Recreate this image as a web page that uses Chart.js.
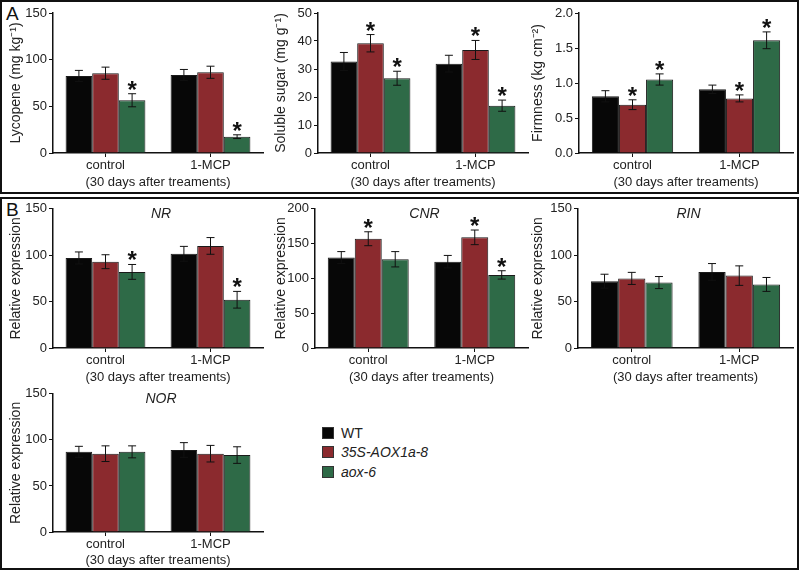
<!DOCTYPE html>
<html>
<head>
<meta charset="utf-8">
<script src="https://cdn.jsdelivr.net/npm/chart.js@4.4.1/dist/chart.umd.min.js"></script>
<style>
  body { margin: 0; width: 800px; height: 571px; background: #fff; position: relative; overflow: hidden; font-family: "Liberation Sans", Arial, sans-serif; color: #222; }
  .panel { position: absolute; box-sizing: border-box; border: 2px solid #111; }
  .letter { position: absolute; font-size: 19px; color: #111; }
  canvas { position: absolute; }
  #legend { position: absolute; left: 322px; top: 423px; font-size: 14px; }
  #legend div { height: 19.5px; display: flex; align-items: center; }
  #legend span.box { width: 12px; height: 12px; box-sizing: border-box; border: 1px solid #333; margin-right: 7px; }
</style>
</head>
<body>
<div class="panel" style="left:0;top:0;width:799px;height:194px"></div>
<div class="panel" style="left:0;top:197px;width:799px;height:373px"></div>
<div class="letter" style="left:6px;top:3px">A</div>
<div class="letter" style="left:6px;top:199px">B</div>
<canvas id="c1"></canvas>
<canvas id="c2"></canvas>
<canvas id="c3"></canvas>
<canvas id="c4"></canvas>
<canvas id="c5"></canvas>
<canvas id="c6"></canvas>
<canvas id="c7"></canvas>
<div id="legend"></div>
<script>
const groups = ['control', '1-MCP'];
const lines = ['WT', '35S-AOX1a-8', 'aox-6'];
const colors = ['#070707', '#8b2a2e', '#2e6a47'];

// mean / error / significance, one row per line (WT, 35S-AOX1a-8, aox-6)
const lycopene = [[82.5, 83.5], [85.5, 86.5], [56.5, 17.5]];
const lycopeneErr = [[6, 6], [6.5, 6.5], [7, 2]];
const lycopeneStar = [[0, 0], [0, 0], [1, 1]];

const sugar = [[32.7, 31.9], [39.2, 36.8], [26.7, 16.9]];
const sugarErr = [[3.2, 3], [3.1, 3.4], [2.5, 2]];
const sugarStar = [[0, 0], [1, 1], [1, 1]];

const firmness = [[0.81, 0.91], [0.69, 0.78], [1.05, 1.61]];
const firmnessErr = [[0.08, 0.06], [0.07, 0.05], [0.08, 0.12]];
const firmnessStar = [[0, 0], [1, 1], [1, 1]];

const nr = [[97, 101.5], [93, 110], [82, 52]];
const nrErr = [[6.5, 8], [7.5, 9], [8, 9]];
const nrStar = [[0, 0], [0, 0], [1, 1]];

const cnr = [[130, 124], [157, 159], [127.5, 105]];
const cnrErr = [[8.5, 9], [10, 10.5], [11, 6]];
const cnrStar = [[0, 0], [1, 1], [0, 1]];

const rin = [[72, 82], [75, 78], [70.5, 68.5]];
const rinErr = [[7.5, 9], [6.5, 10.5], [6.5, 7.5]];
const rinStar = [[0, 0], [0, 0], [0, 0]];

const nor = [[87, 89], [85, 85], [87, 83.5]];
const norErr = [[6, 8], [8.5, 9], [6.5, 9]];
const norStar = [[0, 0], [0, 0], [0, 0]];

const errorBars = {
  id: 'errorBars',
  afterDatasetsDraw(chart) {
    const ctx = chart.ctx;
    const y = chart.scales.y;
    const errs = chart.options.plugins.errorBars.errors;
    const stars = chart.options.plugins.errorBars.stars;
    ctx.save();
    ctx.strokeStyle = '#111';
    ctx.lineWidth = 1;
    chart.data.datasets.forEach((ds, i) => {
      chart.getDatasetMeta(i).data.forEach((bar, j) => {
        const v = ds.data[j], e = errs[i][j];
        const top = y.getPixelForValue(v + e);
        const bot = y.getPixelForValue(v - e);
        ctx.beginPath();
        ctx.moveTo(bar.x, top); ctx.lineTo(bar.x, bot);
        ctx.moveTo(bar.x - 4, top); ctx.lineTo(bar.x + 4, top);
        ctx.moveTo(bar.x - 4, bot); ctx.lineTo(bar.x + 4, bot);
        ctx.stroke();
        if (stars[i][j]) {
          ctx.fillStyle = '#111';
          ctx.font = 'bold 24px "Liberation Sans", Arial, sans-serif';
          ctx.textAlign = 'center';
          ctx.textBaseline = 'alphabetic';
          ctx.fillText('*', bar.x, top + 4);
        }
      });
    });
    const gene = chart.options.plugins.errorBars.gene;
    if (gene) {
      const a = chart.chartArea;
      ctx.fillStyle = '#222';
      ctx.font = 'italic 14px "Liberation Sans", Arial, sans-serif';
      ctx.textAlign = 'center';
      ctx.textBaseline = 'top';
      ctx.fillText(gene, (a.left + a.right) / 2 + 3, a.top - 2);
    }
    ctx.restore();
  }
};

function makeChart(id, box, means, errs, stars, yTitle, yMax, yStep, gene, decimals) {
  const cv = document.getElementById(id);
  cv.width = box.width; cv.height = box.height;
  cv.style.left = box.left + 'px'; cv.style.top = box.top + 'px';
  const yWidth = box.axisX - box.left;
  const xHeight = box.top + box.height - box.axisBottom;
  new Chart(cv, {
    type: 'bar',
    data: {
      labels: groups,
      datasets: lines.map((name, i) => ({
        label: name,
        data: means[i],
        backgroundColor: colors[i],
        borderColor: '#1a1a1a',
        borderWidth: 1,
        borderSkipped: 'bottom',
        barPercentage: 1,
        categoryPercentage: 0.76
      }))
    },
    options: {
      responsive: false,
      animation: false,
      devicePixelRatio: 1,
      layout: { padding: { top: box.axisTop - box.top, right: box.left + box.width - box.axisRight, left: 0, bottom: 0 } },
      plugins: {
        legend: { display: false },
        tooltip: { enabled: false },
        errorBars: { errors: errs, stars: stars, gene: gene }
      },
      scales: {
        x: {
          grid: { display: true, drawOnChartArea: false, offset: false, tickLength: 4, color: '#111' },
          border: { color: '#111', width: 1.5 },
          ticks: { color: '#222', font: { size: 13, family: '"Liberation Sans", Arial' }, padding: 1, maxRotation: 0 },
          title: { display: true, text: '(30 days after treaments)', color: '#222', font: { size: 13, family: '"Liberation Sans", Arial' }, padding: { top: 0, bottom: 2 } },
          afterFit(s) { s.height = xHeight; }
        },
        y: {
          min: 0, max: yMax,
          grid: { display: true, drawOnChartArea: false, tickLength: 4, color: '#111' },
          border: { color: '#111', width: 1.5 },
          ticks: { stepSize: yStep, color: '#222', padding: 2, font: { size: 13, family: '"Liberation Sans", Arial' },
                   callback: v => decimals ? v.toFixed(decimals) : v },
          title: { display: true, text: yTitle, color: '#222', font: { size: 14, family: '"Liberation Sans", Arial' }, padding: { top: 0, bottom: 0 } },
          afterFit(s) { s.width = yWidth; }
        }
      }
    },
    plugins: [errorBars]
  });
}

makeChart('c1', { left: 8, top: 2, width: 260, height: 190, axisX: 53, axisTop: 13, axisBottom: 153, axisRight: 263 },
  lycopene, lycopeneErr, lycopeneStar, 'Lycopene (mg kg⁻¹)', 150, 50, null, 0);
makeChart('c2', { left: 273, top: 2, width: 259, height: 190, axisX: 318, axisTop: 13, axisBottom: 153, axisRight: 528 },
  sugar, sugarErr, sugarStar, 'Soluble sugar (mg g⁻¹)', 50, 10, null, 0);
makeChart('c3', { left: 530, top: 2, width: 267, height: 190, axisX: 579, axisTop: 13, axisBottom: 153, axisRight: 793 },
  firmness, firmnessErr, firmnessStar, 'Firmness (kg cm⁻²)', 2, 0.5, null, 1);
makeChart('c4', { left: 8, top: 199, width: 260, height: 188, axisX: 53, axisTop: 208, axisBottom: 348, axisRight: 263 },
  nr, nrErr, nrStar, 'Relative expression', 150, 50, 'NR', 0);
makeChart('c5', { left: 273, top: 199, width: 259, height: 188, axisX: 315, axisTop: 208, axisBottom: 348, axisRight: 528 },
  cnr, cnrErr, cnrStar, 'Relative expression', 200, 50, 'CNR', 0);
makeChart('c6', { left: 530, top: 199, width: 267, height: 188, axisX: 578, axisTop: 208, axisBottom: 348, axisRight: 793 },
  rin, rinErr, rinStar, 'Relative expression', 150, 50, 'RIN', 0);
makeChart('c7', { left: 8, top: 384, width: 260, height: 186, axisX: 53, axisTop: 393, axisBottom: 532, axisRight: 263 },
  nor, norErr, norStar, 'Relative expression', 150, 50, 'NOR', 0);

const legend = document.getElementById('legend');
lines.forEach((name, i) => {
  const row = document.createElement('div');
  row.innerHTML = '<span class="box" style="background:' + colors[i] + '"></span><span' + (i ? ' style="font-style:italic"' : '') + '>' + name + '</span>';
  legend.appendChild(row);
});
</script>
</body>
</html>
